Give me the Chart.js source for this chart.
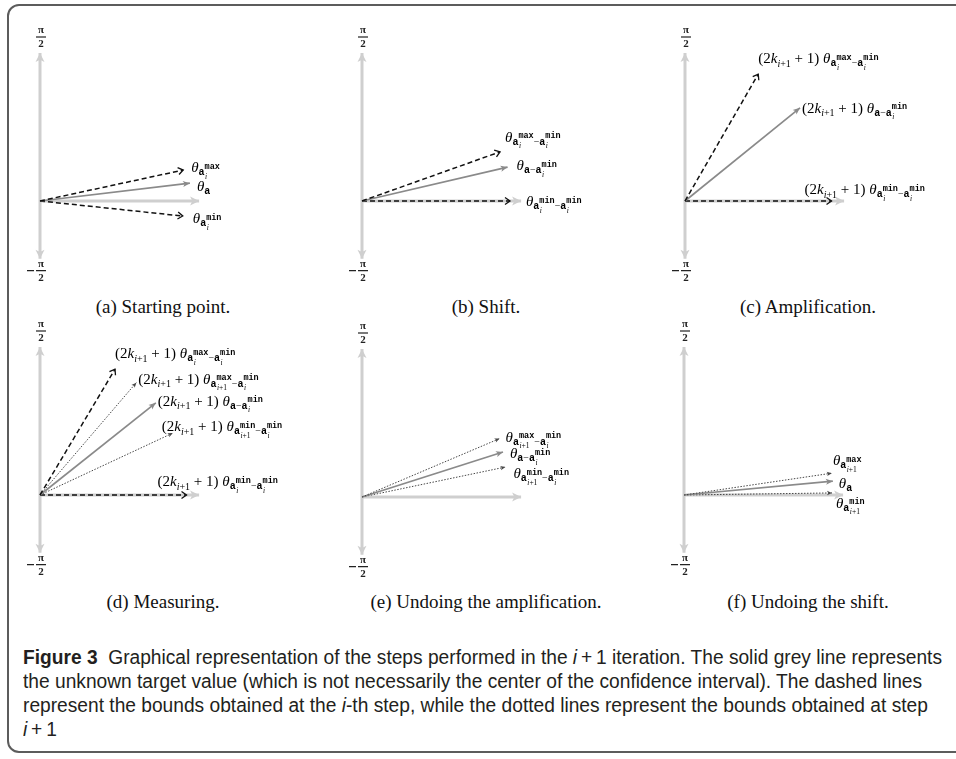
<!DOCTYPE html>
<html>
<head>
<meta charset="UTF-8">
<title>Figure 3</title>
<script src="https://cdn.jsdelivr.net/npm/chart.js"></script>
<style>
  body { margin: 0; background: #fff; }
  #page { position: relative; width: 956px; height: 759px; overflow: hidden; }
  .frame {
    position: absolute; left: 7px; top: 4px; width: 980px; height: 749px;
    border: 2px solid #5c5c5c; border-radius: 12px; box-sizing: border-box;
  }
  canvas { position: absolute; }
  .sub {
    position: absolute; transform: translate(-50%, -50%);
    font-family: "Liberation Serif", "Times New Roman", serif;
    font-size: 19px; line-height: 19px; color: #111; white-space: nowrap;
  }
  #caption {
    position: absolute; left: 23px; top: 645px;
    font-family: "Liberation Sans", Arial, sans-serif; font-size: 19.5px;
    line-height: 24px; color: #231f20; transform-origin: 0 0;
  }
  #caption div { width: max-content; white-space: nowrap; }
</style>
</head>
<body>
<div id="page">
  <div class="frame"></div>
  <div id="caption">
    <div><b>Figure 3</b>&nbsp; Graphical representation of the steps performed in the <i>i</i>&thinsp;+&thinsp;1 iteration. The solid grey line represents</div>
    <div>the unknown target value (which is not necessarily the center of the confidence interval). The dashed lines</div>
    <div>represent the bounds obtained at the <i>i</i>-th step, while the dotted lines represent the bounds obtained at step</div>
    <div><i>i</i>&thinsp;+&thinsp;1</div>
  </div>
</div>

<script>
  const U = 148; // pixels per unit length
  const axisTop = 1.0, axisBottom = -0.39, axisRight = 1.075;

  const panelTitles = ['(a) Starting point.', '(b) Shift.', '(c) Amplification.',
                       '(d) Measuring.', '(e) Undoing the amplification.', '(f) Undoing the shift.'];

  // vector angles (degrees) and lengths, one set per panel
  const startAngles = [12.2, 6.8, -6.0];
  const startLengths = [0.99, 1.02, 0.97];
  const startKinds = ['dashed', 'target', 'dashed'];
  const startLabels = ['θ a [max,i]', 'θ a', 'θ a [min,i]'];

  const shiftAngles = [19.6, 13.1, 0];
  const shiftLengths = [0.99, 1.01, 1.0];
  const shiftKinds = ['dashed', 'target', 'dashed'];
  const shiftLabels = ['θ a [max,i] − a [min,i]', 'θ a − a [min,i]', 'θ a [min,i] − a [min,i]'];

  const amplAngles = [60, 39, 0];
  const amplLengths = [0.99, 1.0, 0.99];
  const amplKinds = ['dashed', 'target', 'dashed'];
  const amplLabels = ['K θ a [max,i] − a [min,i]', 'K θ a − a [min,i]', 'K θ a [min,i] − a [min,i]'];

  const measureAngles = [59.2, 49.4, 38.5, 25, 0];
  const measureLengths = [0.99, 1.0, 1.0, 0.99, 0.99];
  const measureKinds = ['dashed', 'dotted', 'target', 'dotted', 'dashed'];
  const measureLabels = ['K θ a [max,i] − a [min,i]', 'K θ a [max,i+1] − a [min,i]', 'K θ a − a [min,i]',
                         'K θ a [min,i+1] − a [min,i]', 'K θ a [min,i] − a [min,i]'];

  const undoAmplAngles = [23, 17.7, 11.8];
  const undoAmplLengths = [1.01, 1.0, 0.99];
  const undoAmplKinds = ['dotted', 'target', 'dotted'];
  const undoAmplLabels = ['θ a [max,i+1] − a [min,i]', 'θ a − a [min,i]', 'θ a [min,i+1] − a [min,i]'];

  const undoShiftAngles = [8.4, 5.3, 0.8];
  const undoShiftLengths = [1.01, 1.01, 1.0];
  const undoShiftKinds = ['dotted', 'target', 'dotted'];
  const undoShiftLabels = ['θ a [max,i+1]', 'θ a', 'θ a [min,i+1]'];

  // layout: origin of each panel on the page, label nudges and caption centres
  const panels = [
    { angles: startAngles, lengths: startLengths, kinds: startKinds, labels: startLabels,
      origin: [40, 201], nudge: [[8, -3], [7, 3], [10, 2]], title: [163, 306] },
    { angles: shiftAngles, lengths: shiftLengths, kinds: shiftKinds, labels: shiftLabels,
      origin: [362, 201], nudge: [[5, -15], [9, -2], [16, 0]], title: [486, 306] },
    { angles: amplAngles, lengths: amplLengths, kinds: amplKinds, labels: amplLabels,
      origin: [685, 201], nudge: [[0, -16], [2, 0], [-27, -12]], title: [808, 306] },
    { angles: measureAngles, lengths: measureLengths, kinds: measureKinds, labels: measureLabels,
      origin: [40, 495], nudge: [[0, -16], [2, -4], [2, -2], [-11, -7], [-29, -14]], title: [163, 601] },
    { angles: undoAmplAngles, lengths: undoAmplLengths, kinds: undoAmplKinds, labels: undoAmplLabels,
      origin: [362, 497], nudge: [[6, -2], [7, 1], [8, 6]], title: [486, 601] },
    { angles: undoShiftAngles, lengths: undoShiftLengths, kinds: undoShiftKinds, labels: undoShiftLabels,
      origin: [684, 495], nudge: [[1, -13], [6, 2], [4, 10]], title: [808, 601] }
  ];

  const kindStyle = {
    target: { color: '#8a8a8a', width: 1.7, dash: [] },
    dashed: { color: '#111111', width: 1.5, dash: [5, 3] },
    dotted: { color: '#474747', width: 1, dash: [1.5, 1.5] },
    axis:   { color: '#cfcfcf', width: 3, dash: [] }
  };

  const SERIF = '"Liberation Serif", "Times New Roman", serif';
  const MONO = '"Liberation Mono", "DejaVu Sans Mono", monospace';

  function put(ctx, txt, font, x, y) {
    ctx.font = font;
    ctx.fillText(txt, x, y);
    return ctx.measureText(txt).width;
  }

  // index like "i" or "i+1": italic i, upright rest
  function putIndex(ctx, txt, size, x, y) {
    let w = put(ctx, 'i', `italic ${size}px ${SERIF}`, x, y);
    if (txt.length > 1) w += put(ctx, txt.slice(1), `${size}px ${SERIF}`, x + w, y);
    return w;
  }

  // tiny layout for the vector labels: tokens separated by spaces
  function drawMath(ctx, expr, x, yMid) {
    ctx.save();
    ctx.fillStyle = '#000';
    ctx.textAlign = 'left';
    ctx.textBaseline = 'alphabetic';
    const base = yMid + 5;
    let cx = x;
    expr.split(' ').forEach(tok => {
      if (tok === 'K') {
        cx += put(ctx, '(2', `15px ${SERIF}`, cx, base);
        cx += put(ctx, 'k', `italic 15px ${SERIF}`, cx, base);
        cx += putIndex(ctx, 'i+1', 10, cx, base + 3.5);
        cx += put(ctx, ' + 1) ', `15px ${SERIF}`, cx, base);
      } else if (tok === 'θ') {
        cx += put(ctx, 'θ', `italic 15px ${SERIF}`, cx, base);
      } else if (tok === 'a') {
        cx += put(ctx, 'a', `bold 10px ${MONO}`, cx, base + 3);
      } else if (tok === '−') {
        cx += put(ctx, '−', `10px ${SERIF}`, cx, base + 3);
      } else if (tok[0] === '[') {
        const [sup, sub] = tok.slice(1, -1).split(',');
        const w1 = put(ctx, sup, `bold 8.5px ${MONO}`, cx, base - 3.5);
        const w2 = putIndex(ctx, sub, 7.5, cx + 0.5, base + 6.5);
        cx += Math.max(w1, w2 + 0.5);
      }
    });
    ctx.restore();
  }

  function drawHead(ctx, x0, y0, x1, y1, kind) {
    const st = kindStyle[kind];
    ctx.save();
    ctx.translate(x1, y1);
    ctx.rotate(Math.atan2(y1 - y0, x1 - x0));
    ctx.fillStyle = st.color;
    ctx.strokeStyle = st.color;
    ctx.setLineDash([]);
    ctx.beginPath();
    if (kind === 'dashed') {
      ctx.lineWidth = 1.3;
      ctx.moveTo(-5, -3.5); ctx.lineTo(0, 0); ctx.lineTo(-5, 3.5);
      ctx.stroke();
    } else {
      const L = kind === 'axis' ? 9 : kind === 'target' ? 7 : 5;
      const H = kind === 'axis' ? 4.5 : kind === 'target' ? 3 : 2.2;
      ctx.moveTo(0, 0); ctx.lineTo(-L, -H); ctx.lineTo(-L * 0.75, 0); ctx.lineTo(-L, H);
      ctx.closePath();
      ctx.fill();
    }
    ctx.restore();
  }

  // π/2 and −π/2 beside the ends of the vertical axis
  function drawFrac(ctx, cx, barY, neg) {
    ctx.save();
    ctx.fillStyle = '#222';
    ctx.strokeStyle = '#222';
    ctx.textAlign = 'center';
    ctx.textBaseline = 'middle';
    ctx.font = `bold 11px ${SERIF}`;
    ctx.fillText('π', cx, barY - 7);
    ctx.fillText('2', cx, barY + 7.5);
    ctx.lineWidth = 1.2;
    ctx.beginPath();
    ctx.moveTo(cx - 5, barY); ctx.lineTo(cx + 5, barY);
    if (neg) { ctx.moveTo(cx - 14, barY); ctx.lineTo(cx - 7, barY); }
    ctx.stroke();
    ctx.restore();
  }

  const vectorDecor = {
    id: 'vectorDecor',
    afterDatasetsDraw(chart) {
      const ctx = chart.ctx;
      chart.data.datasets.forEach((ds, i) => {
        const pts = chart.getDatasetMeta(i).data;
        const a = pts[0], b = pts[pts.length - 1];
        drawHead(ctx, a.x, a.y, b.x, b.y, ds.kind);
        if (ds.bothEnds) drawHead(ctx, b.x, b.y, a.x, a.y, ds.kind);
        if (ds.mathLabel) drawMath(ctx, ds.mathLabel, b.x + ds.nudge[0], b.y + ds.nudge[1]);
      });
      const ox = chart.scales.x.getPixelForValue(0);
      drawFrac(ctx, ox + 1, chart.scales.y.getPixelForValue(axisTop) - 16, false);
      drawFrac(ctx, ox + 1, chart.scales.y.getPixelForValue(axisBottom) + 12, true);
    }
  };

  function line(points, kind, extra) {
    const st = kindStyle[kind];
    return Object.assign({
      data: points, showLine: true, pointRadius: 0, kind: kind,
      borderColor: st.color, borderWidth: st.width, borderDash: st.dash,
      borderCapStyle: 'butt', clip: false
    }, extra);
  }

  const page = document.getElementById('page');
  const W = 300, H = 270, LEFT = 30, TOP = 180;

  panels.forEach((p, k) => {
    const cv = document.createElement('canvas');
    cv.width = W; cv.height = H;
    cv.style.left = (p.origin[0] - LEFT) + 'px';
    cv.style.top = (p.origin[1] - TOP) + 'px';
    cv.style.width = W + 'px'; cv.style.height = H + 'px';
    page.appendChild(cv);

    const datasets = p.angles.map((deg, j) => {
      const r = deg * Math.PI / 180;
      const tip = { x: p.lengths[j] * Math.cos(r), y: p.lengths[j] * Math.sin(r) };
      return line([{ x: 0, y: 0 }, tip], p.kinds[j], { mathLabel: p.labels[j], nudge: p.nudge[j] });
    });
    // axes go last so they are painted underneath
    datasets.push(line([{ x: 0, y: 0 }, { x: axisRight, y: 0 }], 'axis'));
    datasets.push(line([{ x: 0, y: axisBottom }, { x: 0, y: axisTop }], 'axis', { bothEnds: true }));

    new Chart(cv, {
      type: 'scatter',
      data: { datasets },
      options: {
        responsive: false, animation: false, events: [],
        layout: { padding: 0 },
        plugins: { legend: { display: false }, tooltip: { enabled: false } },
        scales: {
          x: { type: 'linear', display: false, min: -LEFT / U, max: (W - LEFT) / U },
          y: { type: 'linear', display: false, min: -(H - TOP) / U, max: TOP / U }
        }
      },
      plugins: [vectorDecor]
    });

    const t = document.createElement('div');
    t.className = 'sub';
    t.textContent = panelTitles[k];
    t.style.left = p.title[0] + 'px';
    t.style.top = p.title[1] + 'px';
    page.appendChild(t);
  });

  // squeeze the caption so its first line spans the frame width
  const cap = document.getElementById('caption');
  const firstLine = cap.firstElementChild.getBoundingClientRect().width;
  cap.style.transform = `scaleX(${919 / firstLine})`;
</script>
</body>
</html>
